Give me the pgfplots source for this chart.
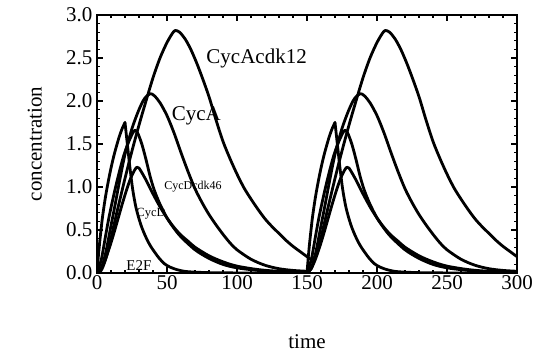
\documentclass[border=0pt]{standalone}
\usepackage{fontspec}
\setmainfont{Liberation Serif}
\usepackage{pgfplots}
\pgfplotsset{compat=1.18}
\begin{document}
\begin{tikzpicture}
\path[use as bounding box] (0,0) rectangle (540pt,356pt);
\begin{axis}[
  at={(97pt,83pt)}, anchor=south west,
  scale only axis, width=420pt, height=258pt,
  xmin=0, xmax=300, ymin=0, ymax=3,
  xtick={0,50,...,300}, ytick={0,0.5,...,3},
  minor x tick num=4, minor y tick num=4,
  tick pos=both, tick align=inside,
  major tick length=6pt, minor tick length=3pt,
  every tick/.style={black, line width=1.2pt},
  axis line style={line width=2.2pt},
  /pgf/number format/assume math mode=true,
  yticklabel style={/pgf/number format/fixed, /pgf/number format/fixed zerofill, /pgf/number format/precision=1, xshift=-1pt},
  ticklabel style={font=\fontsize{21}{21}\selectfont},
  xticklabel style={yshift=1pt},
  xlabel={time}, ylabel={concentration},
  label style={font=\fontsize{21}{21}\selectfont},
  xlabel style={at={(axis description cs:0.5,-0.268)}, anchor=center},
  ylabel style={at={(axis description cs:-0.148,0.5)}, anchor=center},
  cycle list={{black, mark=none}},
  every axis plot/.append style={line width=2.8pt, smooth, tension=0.5, line join=round, line cap=round},
  clip=true,
]
% ---- C1 (cusp curve) cycle 1
\addplot coordinates {(0,0) (1,0.2) (2,0.37) (3,0.52) (4,0.66) (6,0.88) (8,1.06) (10,1.22) (12,1.36) (14,1.48) (16,1.59) (18,1.68) (20,1.75)};
\addplot coordinates {(20,1.75) (21,1.6) (22,1.45) (23,1.3) (24,1.16) (25,1.03) (26,0.92) (27,0.83) (28,0.75) (30,0.63) (32,0.53) (34,0.45) (36,0.38) (38,0.32) (40,0.27) (44,0.18) (48,0.11) (52,0.07) (58,0.035) (65,0.015) (80,0.004) (100,0.001) (150,0)};
% ---- C1 cycle 2
\addplot coordinates {(150,0) (151,0.2) (152,0.37) (153,0.52) (154,0.66) (156,0.88) (158,1.06) (160,1.22) (162,1.36) (164,1.48) (166,1.59) (168,1.68) (170,1.75)};
\addplot coordinates {(170,1.75) (171,1.6) (172,1.45) (173,1.3) (174,1.16) (175,1.03) (176,0.92) (177,0.83) (178,0.75) (180,0.63) (182,0.53) (184,0.45) (186,0.38) (188,0.32) (190,0.27) (194,0.18) (198,0.11) (202,0.07) (208,0.035) (215,0.015) (230,0.004) (250,0.001) (300,0)};
% ---- C2
\addplot coordinates {(0,0) (3,0.15) (6,0.42) (8,0.6) (10,0.76) (13,0.98) (16,1.18) (19,1.36) (22,1.5) (25,1.61) (27,1.66) (29,1.63) (32,1.5) (35,1.32) (38,1.12) (41,0.96) (45,0.8) (50,0.64) (55,0.52) (60,0.42) (70,0.27) (80,0.17) (90,0.1) (100,0.06) (115,0.03) (130,0.012) (150,0.005)};
\addplot coordinates {(150,0) (153,0.15) (156,0.42) (158,0.6) (160,0.76) (163,0.98) (166,1.18) (169,1.36) (172,1.5) (175,1.61) (177,1.66) (179,1.63) (182,1.5) (185,1.32) (188,1.12) (191,0.96) (195,0.8) (200,0.64) (205,0.52) (210,0.42) (220,0.27) (230,0.17) (240,0.1) (250,0.06) (265,0.03) (280,0.012) (300,0.005)};
% ---- C3
\addplot coordinates {(0,0) (3,0.05) (6,0.16) (9,0.3) (12,0.46) (15,0.63) (18,0.8) (21,0.96) (24,1.1) (27,1.2) (28.5,1.23) (30,1.22) (33,1.14) (36,1.05) (40,0.92) (45,0.77) (50,0.64) (55,0.53) (60,0.44) (65,0.37) (70,0.3) (80,0.2) (90,0.13) (100,0.08) (115,0.04) (130,0.02) (150,0.01)};
\addplot coordinates {(150,0) (153,0.05) (156,0.16) (159,0.3) (162,0.46) (165,0.63) (168,0.8) (171,0.96) (174,1.1) (177,1.2) (178.5,1.23) (180,1.22) (183,1.14) (186,1.05) (190,0.92) (195,0.77) (200,0.64) (205,0.53) (210,0.44) (215,0.37) (220,0.3) (230,0.2) (240,0.13) (250,0.08) (265,0.04) (280,0.02) (300,0.01)};
% ---- CycA
\addplot coordinates {(0,0) (3,0.05) (6,0.22) (8,0.38) (10,0.55) (13,0.8) (16,1.06) (20,1.38) (25,1.68) (30,1.9) (34,2.03) (38,2.085) (41,2.06) (45,1.98) (50,1.83) (55,1.63) (60,1.4) (65,1.18) (70,0.98) (75,0.82) (80,0.68) (85,0.56) (90,0.45) (95,0.35) (100,0.27) (110,0.16) (120,0.09) (130,0.05) (140,0.03) (150,0.02)};
\addplot coordinates {(150,0) (153,0.05) (156,0.22) (158,0.38) (160,0.55) (163,0.8) (166,1.06) (170,1.38) (175,1.68) (180,1.9) (184,2.03) (188,2.085) (191,2.06) (195,1.98) (200,1.83) (205,1.63) (210,1.4) (215,1.18) (220,0.98) (225,0.82) (230,0.68) (235,0.56) (240,0.45) (245,0.35) (250,0.27) (260,0.16) (270,0.09) (280,0.05) (290,0.03) (300,0.02)};
% ---- CycAcdk12
\addplot coordinates {(0,0) (3,0.03) (6,0.15) (9,0.33) (12,0.55) (15,0.76) (20,1.1) (25,1.42) (30,1.72) (35,2.0) (40,2.27) (45,2.5) (50,2.68) (54,2.79) (56,2.82) (59,2.8) (63,2.72) (67,2.6) (71,2.45) (75,2.28) (80,2.05) (85,1.78) (90,1.53) (95,1.33) (100,1.15) (105,0.99) (110,0.86) (115,0.74) (120,0.63) (125,0.54) (130,0.46) (135,0.38) (140,0.31) (145,0.25) (150,0.19) (152,0.165) (154,0.16) (156,0.2) (159,0.34) (162,0.55) (165,0.76) (170,1.1) (175,1.42) (180,1.72) (185,2.0) (190,2.27) (195,2.5) (200,2.68) (204,2.79) (206,2.82) (209,2.8) (213,2.72) (217,2.6) (221,2.45) (225,2.28) (230,2.05) (235,1.78) (240,1.53) (245,1.33) (250,1.15) (255,0.99) (260,0.86) (265,0.74) (270,0.63) (275,0.54) (280,0.46) (285,0.38) (290,0.31) (295,0.25) (300,0.19)};
% ---- labels
\node[font=\fontsize{21}{21}\selectfont] at (axis cs:114,2.5) {CycAcdk12};
\node[font=\fontsize{21}{21}\selectfont] at (axis cs:71,1.83) {CycA};
\node[font=\fontsize{12}{12}\selectfont] at (axis cs:68.6,1.0) {CycDcdk46};
\node[font=\fontsize{12.5}{12.5}\selectfont] at (axis cs:38.6,0.69) {CycD};
\node[font=\fontsize{15}{15}\selectfont] at (axis cs:30,0.09) {E2F};
\end{axis}
\end{tikzpicture}
\end{document}
